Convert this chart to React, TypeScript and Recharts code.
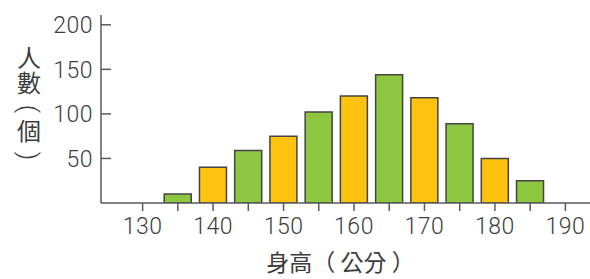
import { BarChart, Bar, XAxis, YAxis, Cell } from "recharts";

const heights = [130, 135, 140, 145, 150, 155, 160, 165, 170, 175, 180, 185, 190];
const counts: (number | null)[] = [null, 10, 40, 59, 75, 102, 120, 144, 118, 89, 50, 25, null];
const yTicks = [50, 100, 150, 200];

const GREEN = "#8dc63f";
const YELLOW = "#ffc20e";
const TEXT = "#3d3d3d";
const AXIS = "#5a5a5a";
const FONT = "Roboto, 'Noto Sans CJK TC', sans-serif";
const CJK = "'Noto Sans CJK TC', sans-serif";

const data = heights.map((h, i) => ({ height: h, count: counts[i] }));

function YTick(props: any) {
  const { x, y, payload } = props;
  return (
    <g>
      <line x1={x} y1={y} x2={x + 10} y2={y} stroke={AXIS} strokeWidth={1.5} />
      <text
        x={x - 8}
        y={y}
        dy="0.36em"
        textAnchor="end"
        fill={TEXT}
        fontSize={23}
        fontWeight={300}
        letterSpacing={0.5}
        fontFamily={FONT}
      >
        {payload.value}
      </text>
    </g>
  );
}

// vertical title: characters stacked, brackets turned on their side
function YTitle(props: any) {
  const top = props.viewBox ? props.viewBox.y : 15;
  const cx = 29;
  const items = [
    { ch: "人", y: top + 41, rot: 0 },
    { ch: "數", y: top + 66, rot: 0 },
    { ch: "(", y: top + 94, rot: 90 },
    { ch: "個", y: top + 114, rot: 0 },
    { ch: ")", y: top + 141, rot: 90 },
  ];
  return (
    <g>
      {items.map((it, i) => (
        <text
          key={i}
          x={cx}
          y={it.y}
          textAnchor="middle"
          dominantBaseline="central"
          transform={it.rot ? `rotate(${it.rot} ${cx} ${it.y})` : undefined}
          fill={TEXT}
          fontSize={it.rot ? 26 : 24}
          fontWeight={it.rot ? 300 : 400}
          fontFamily={it.rot ? FONT : CJK}
        >
          {it.ch}
        </text>
      ))}
    </g>
  );
}

function XTitle(props: any) {
  const vb = props.viewBox;
  return (
    <text
      x={vb.x + vb.width / 2 - 5}
      y={vb.y + 68}
      textAnchor="middle"
      fill={TEXT}
      fontSize={23}
      fontFamily={CJK}
    >
      身高（ 公分 ）
    </text>
  );
}

export default function App() {
  return (
    <div style={{ position: "absolute", left: 0, top: 0, background: "#fff" }}>
      <BarChart
        width={590}
        height={279}
        data={data}
        margin={{ top: 15, right: 0, left: 0, bottom: 0 }}
      >
        <XAxis
          dataKey="height"
          height={76}
          interval={0}
          padding={{ left: 24, right: 7 }}
          axisLine={{ stroke: AXIS, strokeWidth: 1.5 }}
          tickLine={{ stroke: AXIS, strokeWidth: 1.5 }}
          tickSize={8}
          tickMargin={7}
          tick={{ fill: TEXT, fontSize: 23, fontWeight: 300, fontFamily: FONT, letterSpacing: 0.5 }}
          tickFormatter={(v: number) => (v % 10 === 0 ? String(v) : "")}
          label={<XTitle />}
        />
        <YAxis
          width={101}
          domain={[0, 211]}
          ticks={yTicks}
          allowDataOverflow
          axisLine={{ stroke: AXIS, strokeWidth: 1.5 }}
          tickLine={false}
          tickSize={0}
          tickMargin={0}
          tick={<YTick />}
          label={<YTitle />}
        />
        <Bar
          dataKey="count"
          barSize={27}
          stroke="#444"
          strokeWidth={1.5}
          isAnimationActive={false}
        >
          {data.map((d, i) => (
            <Cell key={d.height} fill={i % 2 === 1 ? GREEN : YELLOW} />
          ))}
        </Bar>
      </BarChart>
    </div>
  );
}
